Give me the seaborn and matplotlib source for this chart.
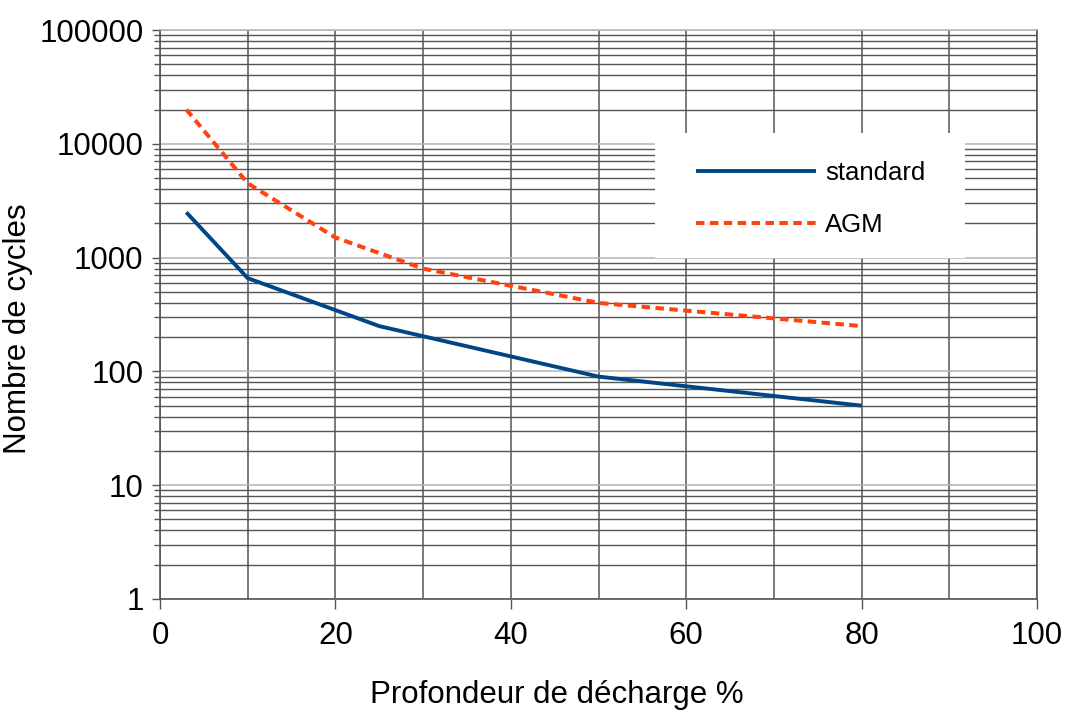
import matplotlib
matplotlib.use("Agg")
import matplotlib.pyplot as plt
import matplotlib.ticker as mticker
from matplotlib.patches import Rectangle
import numpy as np
import pandas as pd
import seaborn as sns

# ---- data ----
standard_x = [3, 10, 25, 50, 80]
standard_y = [2500, 660, 250, 90, 50]
agm_x = [3, 10, 20, 30, 50, 80]
agm_y = [20000, 4500, 1500, 800, 400, 250]
series_names = ["standard", "AGM"]
x_ticks = [0, 20, 40, 60, 80, 100]
y_ticks = [1, 10, 100, 1000, 10000, 100000]
x_label = "Profondeur de décharge %"
y_label = "Nombre de cycles"

sns.set_theme(style="white")
plt.rcParams["font.family"] = ["Liberation Sans", "DejaVu Sans"]
plt.rcParams["text.color"] = "black"
plt.rcParams["axes.labelcolor"] = "black"

fig = plt.figure(figsize=(10.66, 7.10), dpi=100)
ax = fig.add_axes([160 / 1066, 1 - 599 / 710, 877 / 1066, 569 / 710])

df_std = pd.DataFrame({"x": standard_x, "y": standard_y})
df_agm = pd.DataFrame({"x": agm_x, "y": agm_y})

sns.lineplot(data=df_std, x="x", y="y", ax=ax, color="#004586", linewidth=2.8,
             label=series_names[0], zorder=4, solid_capstyle="butt")
sns.lineplot(data=df_agm, x="x", y="y", ax=ax, color="#ff420e", linewidth=2.9,
             label=series_names[1], zorder=4, dashes=(2.1, 1.35))

ax.set_yscale("log")
ax.set_xlim(0, 100)
ax.set_ylim(1, 100000)

ax.set_xticks(x_ticks)
ax.xaxis.set_minor_locator(mticker.MultipleLocator(10))
ax.set_yticks(y_ticks)
ax.yaxis.set_major_formatter(mticker.FixedFormatter([str(v) for v in y_ticks]))
ax.yaxis.set_minor_locator(mticker.LogLocator(base=10, subs=np.arange(2, 10)))
ax.yaxis.set_minor_formatter(mticker.NullFormatter())

ax.tick_params(axis="both", which="major", labelsize=22.5, colors="#555555",
               labelcolor="black", direction="out")
ax.tick_params(axis="y", which="major", length=5.8, width=1.0, pad=6, left=True)
ax.tick_params(axis="y", which="minor", length=4.3, width=1.0, left=True, color="#555555")
ax.tick_params(axis="x", which="major", length=7, width=1.0, pad=9, bottom=True)
ax.tick_params(axis="x", which="minor", length=0)

# grid
ax.set_axisbelow(True)
ax.grid(True, axis="x", which="both", color="#555555", linewidth=1.1)
ax.grid(True, axis="y", which="major", color="#b3b3b3", linewidth=1.1)
ax.grid(True, axis="y", which="minor", color="#555555", linewidth=1.0)

for side in ["left", "bottom", "right"]:
    ax.spines[side].set_color("#555555")
    ax.spines[side].set_linewidth(1.2)
ax.spines["top"].set_color("#b3b3b3")
ax.spines["top"].set_linewidth(1.1)

ax.set_xlabel(x_label, fontsize=22.5, color="black")
ax.set_ylabel(y_label, fontsize=22.5, color="black")
ax.xaxis.set_label_coords((557 - 160) / 877, -0.142)
ax.yaxis.set_label_coords((33 - 160) / 877, 1 - (329 - 30) / 569)

# legend background box
ax.add_patch(Rectangle((0.564, 0.599), 0.354, 0.220, transform=ax.transAxes,
                       facecolor="white", edgecolor="none", zorder=3))
leg = ax.legend(loc="center left", bbox_to_anchor=((696 - 160) / 877, 1 - (199 - 30) / 569),
                frameon=False, fontsize=18.5, handlelength=4.67, handletextpad=0.35,
                labelspacing=1.1, borderpad=0, borderaxespad=0)
for t in leg.get_texts():
    t.set_color("black")
leg.set_zorder(5)

fig.savefig("out.png", dpi=100)
